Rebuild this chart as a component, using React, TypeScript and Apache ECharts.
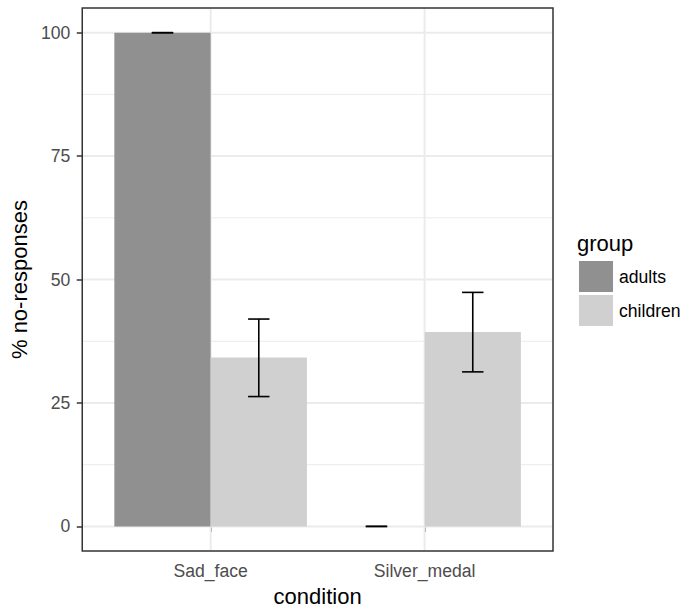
import React, { useEffect, useRef } from "react";
import * as echarts from "echarts";

const categories = ["Sad_face", "Silver_medal"];
const groups = ["adults", "children"];
const adultsMean = [100, 0];
const adultsLow = [100, 0];
const adultsHigh = [100, 0];
const childrenMean = [34.2, 39.4];
const childrenLow = [26.3, 31.3];
const childrenHigh = [42.0, 47.4];
const yTicks = [0, 25, 50, 75, 100];
const yMinorTicks = [12.5, 37.5, 62.5, 87.5];
const xRange = [0.4, 2.6];
const yRange = [-5, 105];

const FONT = "'Liberation Sans', Arial, Helvetica, sans-serif";
const colors = { adults: "#8f908f", children: "#d0d0d0" };
const DODGE = 0.45;
const CAP = 0.05;

export default function App() {
  const ref = useRef<HTMLDivElement>(null);
  useEffect(() => {
    if (!ref.current) return;
    const chart = echarts.init(ref.current, null, { renderer: "svg" });
    const xPos = categories.map((_, i) => i + 1);

    const barSeries = (name: string, means: number[], side: number) => ({
      type: "custom",
      name,
      z: 3,
      silent: true,
      itemStyle: { color: (colors as any)[name] },
      data: xPos.map((x, i) => [x, means[i]]),
      encode: { x: 0, y: 1 },
      renderItem: (params: any, api: any) => {
        const x = api.value(0);
        const v = api.value(1);
        const xa = side < 0 ? x - DODGE : x;
        const xb = side < 0 ? x : x + DODGE;
        const p1 = api.coord([xa, v]);
        const p0 = api.coord([xb, 0]);
        return {
          type: "rect",
          shape: { x: p1[0], y: p1[1], width: p0[0] - p1[0], height: p0[1] - p1[1] },
          style: { fill: (colors as any)[name] },
        };
      },
    });

    const errSeries = (name: string, lows: number[], highs: number[], side: number) => ({
      type: "custom",
      name,
      z: 4,
      silent: true,
      data: xPos.map((x, i) => [x, lows[i], highs[i]]),
      encode: { x: 0, y: [1, 2] },
      renderItem: (params: any, api: any) => {
        const xc = api.value(0) + side * DODGE / 2;
        const lo = api.value(1);
        const hi = api.value(2);
        const top = api.coord([xc, hi]);
        const bot = api.coord([xc, lo]);
        const tl = api.coord([xc - CAP, hi]);
        const tr = api.coord([xc + CAP, hi]);
        const bl = api.coord([xc - CAP, lo]);
        const br = api.coord([xc + CAP, lo]);
        const st = { stroke: "#000", lineWidth: 1.6 };
        return {
          type: "group",
          children: [
            { type: "line", shape: { x1: top[0], y1: top[1], x2: bot[0], y2: bot[1] }, style: st },
            { type: "line", shape: { x1: tl[0], y1: tl[1], x2: tr[0], y2: tr[1] }, style: st },
            { type: "line", shape: { x1: bl[0], y1: bl[1], x2: br[0], y2: br[1] }, style: st },
          ],
        };
      },
    });

    const gridData = [
      ...yMinorTicks.map((v) => [0, v, 1]),
      ...yTicks.map((v) => [0, v, 2]),
      ...xPos.map((v) => [1, v, 2]),
    ];

    const option: any = {
      animation: false,
      textStyle: { fontFamily: FONT },
      title: {
        text: "group",
        left: 577,
        top: 232,
        padding: 0,
        textStyle: { fontSize: 22, fontWeight: "normal", color: "#000", fontFamily: FONT },
      },
      legend: {
        data: groups,
        orient: "vertical",
        left: 579,
        top: 261,
        padding: 0,
        itemWidth: 34,
        itemHeight: 31,
        itemGap: 3,
        icon: "rect",
        selectedMode: false,
        textStyle: { fontSize: 17.6, color: "#000", fontFamily: FONT, padding: [0, 0, 0, 1] },
      },
      grid: { left: 75, right: 132, top: 8, bottom: 55, containLabel: false },
      xAxis: {
        type: "value",
        min: xRange[0],
        max: xRange[1],
        name: "condition",
        nameLocation: "middle",
        nameGap: 33,
        nameTextStyle: { fontSize: 22, color: "#000", fontFamily: FONT },
        axisLine: { show: false },
        axisTick: { show: true, length: 5.5, customValues: xPos, lineStyle: { color: "#333", width: 1.5 } },
        axisLabel: {
          customValues: xPos,
          formatter: (v: number) => categories[Math.round(v) - 1],
          fontSize: 17.6,
          color: "#4d4d4d",
          margin: 11,
          fontFamily: FONT,
        },
        splitLine: { show: false },
      },
      yAxis: {
        type: "value",
        min: yRange[0],
        max: yRange[1],
        name: "% no-responses",
        nameLocation: "middle",
        nameGap: 46,
        nameTextStyle: { fontSize: 22, color: "#000", fontFamily: FONT },
        axisLine: { show: false },
        axisTick: { show: true, length: 5.5, customValues: yTicks, lineStyle: { color: "#333", width: 1.5 } },
        axisLabel: { customValues: yTicks, fontSize: 17.6, color: "#4d4d4d", margin: 12, fontFamily: FONT },
        splitLine: { show: false },
      },
      series: [
        {
          type: "custom",
          name: "gridlines",
          z: 1,
          silent: true,
          data: gridData,
          renderItem: (params: any, api: any) => {
            const kind = api.value(0);
            const v = api.value(1);
            const w = api.value(2);
            let a, b;
            if (kind === 0) {
              a = api.coord([xRange[0], v]);
              b = api.coord([xRange[1], v]);
            } else {
              a = api.coord([v, yRange[0]]);
              b = api.coord([v, yRange[1]]);
            }
            return {
              type: "line",
              shape: { x1: a[0], y1: a[1], x2: b[0], y2: b[1] },
              style: { stroke: "#ebebeb", lineWidth: w },
            };
          },
        },
        barSeries("adults", adultsMean, -1),
        barSeries("children", childrenMean, 1),
        errSeries("adults_err", adultsLow, adultsHigh, -1),
        errSeries("children_err", childrenLow, childrenHigh, 1),
        {
          type: "custom",
          name: "panel",
          z: 10,
          silent: true,
          data: [[0]],
          renderItem: (params: any, api: any) => {
            const p1 = api.coord([xRange[0], yRange[1]]);
            const p0 = api.coord([xRange[1], yRange[0]]);
            return {
              type: "rect",
              shape: { x: p1[0], y: p1[1], width: p0[0] - p1[0], height: p0[1] - p1[1] },
              style: { fill: "none", stroke: "#333", lineWidth: 1.5 },
            };
          },
        },
      ],
    };
    chart.setOption(option);
    return () => chart.dispose();
  }, []);
  return (
    <div
      ref={ref}
      style={{ position: "fixed", left: 0, top: 0, width: 685, height: 612, background: "#fff" }}
    />
  );
}
